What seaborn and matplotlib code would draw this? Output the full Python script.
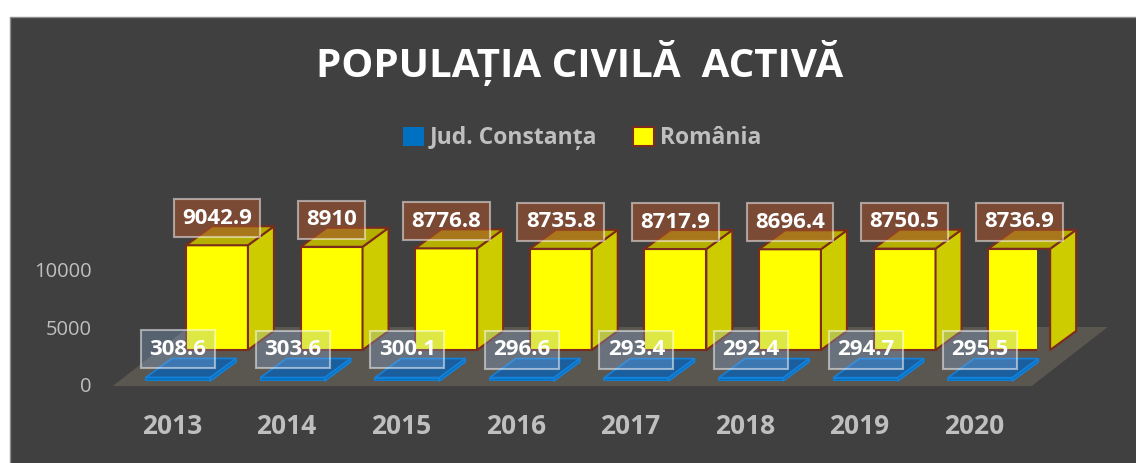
import matplotlib
matplotlib.use('Agg')
import matplotlib.pyplot as plt
import matplotlib.transforms as mtransforms
from matplotlib.patches import Polygon, Rectangle
import numpy as np
import pandas as pd
import seaborn as sns

years = ['2013', '2014', '2015', '2016', '2017', '2018', '2019', '2020']
constanta = [308.6, 303.6, 300.1, 296.6, 293.4, 292.4, 294.7, 295.5]
romania = [9042.9, 8910, 8776.8, 8735.8, 8717.9, 8696.4, 8750.5, 8736.9]
series_names = ['Jud. Constanța', 'România']
y_ticks = [0, 5000, 10000]

sns.set_style('white')
plt.rcParams['font.family'] = ['Open Sans', 'DejaVu Sans']

W, H = 1136, 463
fig = plt.figure(figsize=(W / 100, H / 100), dpi=100, facecolor='white')
# dark chart area
fig.patches.append(Rectangle((10 / W, -0.01), 1.0, 451 / H, transform=fig.transFigure,
                             facecolor='#404040', edgecolor='#8c8c8c', lw=1, zorder=-10))

ax = fig.add_axes([120.7 / W, 82 / H, 916.8 / W, 139 / H])
ax.set_facecolor('none')

df = pd.DataFrame({'year': years, series_names[0]: constanta, series_names[1]: romania})

# back row (Romania) and front row (Constanta)
sns.barplot(data=df, x='year', y=series_names[1], color='#ffff00', saturation=1, width=0.54,
            edgecolor='#7b2c1c', linewidth=1.5, errorbar=None, ax=ax, zorder=2)
sns.barplot(data=df, x='year', y=series_names[0], color='#0070c0', saturation=1, width=0.56,
            edgecolor='#1580d8', linewidth=1.2, errorbar=None, ax=ax, zorder=4)
ax.set_xlim(-0.5, len(years) - 0.5)
ax.set_ylim(0, 12000)
sns.despine(ax=ax, left=True, bottom=True)

yellow_bars, blue_bars = ax.containers[0], ax.containers[1]


def shift(dx, dy):
    return mtransforms.ScaledTranslation(dx / 100, dy / 100, fig.dpi_scale_trans)


back = ax.transData + shift(39, 31)
for p in yellow_bars:
    p.set_transform(back)

ident = mtransforms.IdentityTransform()

# floor
front = ax.transData.transform([(-0.57, 0), (len(years) - 0.55, 0)]) + np.array([0, -5])
depth_floor = np.array([76, 59])
ax.add_patch(Polygon([front[0], front[1], front[1] + depth_floor, front[0] + depth_floor],
                     transform=ident, facecolor='#5a5650', edgecolor='none', zorder=0.5, clip_on=False))


def box3d(bar, trans, top_c, side_c, edge_c, lw, z):
    x0, w, h = bar.get_x(), bar.get_width(), bar.get_height()
    bl, br, tr, tl = trans.transform([(x0, 0), (x0 + w, 0), (x0 + w, h), (x0, h)])
    d = np.array([26, 19])
    for pts, c in (([br, tr, tr + d, br + d], side_c), ([tl, tr, tr + d, tl + d], top_c)):
        ax.add_patch(Polygon(pts, transform=ident, facecolor=c, edgecolor=edge_c, lw=lw,
                             zorder=z, clip_on=False, joinstyle='round'))


for p in yellow_bars:
    box3d(p, back, '#b5b000', '#cccc00', '#7b2c1c', 1.5, 2)
for p in blue_bars:
    box3d(p, ax.transData, '#1b5e9e', '#0070c0', '#1580d8', 1.2, 4)

# data labels
for i, v in enumerate(romania):
    ax.annotate(f'{v:g}', xy=(i, v), xycoords=back, xytext=(0, 27), textcoords='offset pixels',
                ha='center', va='center', color='white', fontweight='bold', fontsize=16,
                bbox=dict(boxstyle='square,pad=0.38', fc=(0.63, 0.32, 0.18, 0.6), ec=(1, 1, 1, 0.5), lw=1.5),
                zorder=6, annotation_clip=False)
for i, v in enumerate(constanta):
    ax.annotate(f'{v:g}', xy=(i, v), xycoords=ax.transData, xytext=(0, 28), textcoords='offset pixels',
                ha='center', va='center', color='white', fontweight='bold', fontsize=16,
                bbox=dict(boxstyle='square,pad=0.38', fc=(0.56, 0.7, 0.89, 0.3), ec=(1, 1, 1, 0.5), lw=1.5),
                zorder=6, annotation_clip=False)

# axes text
ax.set_yticks(y_ticks)
ax.set_yticklabels([str(t) for t in y_ticks])
ax.tick_params(axis='y', length=0, pad=21, labelsize=14.5, labelcolor='#bfbfbf')
ax.tick_params(axis='x', length=0, pad=23, labelsize=19, labelcolor='#bfbfbf')
for lbl in ax.get_xticklabels():
    lbl.set_fontweight('bold')
    lbl.set_transform(lbl.get_transform() + shift(-6, 0))
for lbl in ax.get_yticklabels():
    lbl.set_transform(lbl.get_transform() + shift(0, -4))
ax.set_xlabel('')
ax.set_ylabel('')

fig.text(580 / W, 400 / H, 'POPULAȚIA CIVILĂ  ACTIVĂ', ha='center', va='center',
         color='white', fontsize=29, fontweight='bold')

leg = fig.legend(handles=[blue_bars.patches[0], yellow_bars.patches[0]], labels=series_names,
                 loc='center', bbox_to_anchor=(582 / W, 325 / H), ncol=2, frameon=False,
                 handlelength=0.9, handleheight=0.9, handletextpad=0.25, columnspacing=1.6,
                 prop=dict(weight='bold', size=16.5), labelcolor='#bfbfbf')
leg.legend_handles[0].set_edgecolor('none')

fig.savefig('out.png', dpi=100, facecolor=fig.get_facecolor())
